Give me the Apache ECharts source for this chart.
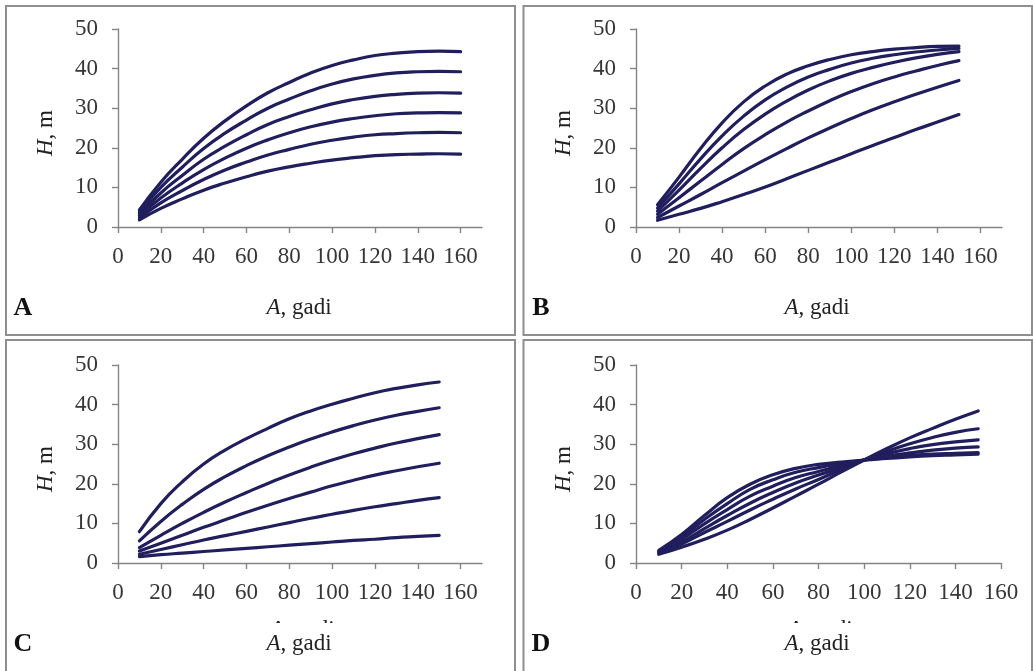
<!DOCTYPE html>
<html>
<head>
<meta charset="utf-8">
<script src="https://cdn.jsdelivr.net/npm/echarts@6/dist/echarts.min.js"></script>
<style>
  html, body { margin: 0; padding: 0; background: #fff; }
  #chart { width: 1033px; height: 671px; }
</style>
</head>
<body>
<div id="chart"></div>
<script>
// Stand age (years) at which heights are given
const agesA = [10, 20, 30, 40, 50, 60, 70, 80, 90, 100, 110, 120, 130, 140, 150, 160];
const agesBCD = [10, 20, 30, 40, 50, 60, 70, 80, 90, 100, 110, 120, 130, 140, 150];

// Panel A: six height curves (m)
const heightsA = [
  [4.3, 11.3, 17.1, 22.4, 26.8, 30.6, 33.9, 36.5, 38.9, 40.8, 42.2, 43.3, 43.9, 44.3, 44.4, 44.3],
  [3.8, 10.0, 15.1, 19.8, 23.7, 27.0, 30.0, 32.3, 34.4, 36.1, 37.4, 38.3, 38.9, 39.2, 39.3, 39.2],
  [3.3, 8.6, 13.0, 17.1, 20.4, 23.3, 25.9, 27.9, 29.6, 31.1, 32.2, 33.0, 33.5, 33.8, 33.9, 33.8],
  [2.8, 7.3, 11.1, 14.5, 17.4, 19.9, 22.0, 23.8, 25.3, 26.5, 27.4, 28.1, 28.6, 28.8, 28.9, 28.8],
  [2.3, 6.1, 9.2, 12.0, 14.4, 16.4, 18.2, 19.6, 20.9, 21.9, 22.7, 23.3, 23.6, 23.8, 23.9, 23.8],
  [1.8, 4.7, 7.1, 9.3, 11.1, 12.7, 14.1, 15.2, 16.1, 16.9, 17.5, 18.0, 18.3, 18.4, 18.5, 18.4]
];

// Panel B
const heightsB = [
  [5.6, 12.6, 19.8, 26.3, 31.6, 35.6, 38.6, 40.7, 42.3, 43.5, 44.3, 44.9, 45.3, 45.6, 45.7],
  [4.8, 10.9, 17.2, 23.0, 28.0, 32.1, 35.3, 37.9, 39.8, 41.4, 42.6, 43.5, 44.2, 44.7, 45.1],
  [4.0, 9.3, 14.8, 20.0, 24.6, 28.5, 31.8, 34.6, 36.9, 38.8, 40.3, 41.6, 42.7, 43.6, 44.3],
  [3.2, 7.4, 11.6, 15.8, 19.8, 23.3, 26.5, 29.3, 31.9, 34.2, 36.2, 37.9, 39.4, 40.8, 42.0],
  [2.4, 5.3, 8.2, 11.2, 14.1, 17.0, 19.8, 22.5, 25.0, 27.4, 29.6, 31.6, 33.5, 35.3, 37.0],
  [1.7, 3.2, 4.7, 6.4, 8.2, 10.1, 12.2, 14.3, 16.4, 18.5, 20.6, 22.6, 24.6, 26.5, 28.4]
];

// Panel C
const heightsC = [
  [7.9, 15.0, 20.5, 25.0, 28.5, 31.4, 34.0, 36.4, 38.4, 40.1, 41.6, 43.0, 44.1, 45.0, 45.7],
  [5.6, 10.5, 14.8, 18.6, 21.8, 24.6, 27.1, 29.3, 31.3, 33.1, 34.7, 36.1, 37.3, 38.3, 39.2],
  [3.9, 7.0, 10.0, 12.8, 15.4, 17.8, 20.1, 22.2, 24.2, 26.0, 27.6, 29.0, 30.3, 31.4, 32.4],
  [3.0, 5.0, 7.0, 9.0, 10.9, 12.8, 14.6, 16.3, 17.9, 19.5, 20.9, 22.2, 23.3, 24.3, 25.2],
  [2.2, 3.4, 4.6, 5.8, 6.9, 8.0, 9.1, 10.2, 11.3, 12.3, 13.3, 14.2, 15.0, 15.8, 16.5],
  [1.6, 2.1, 2.5, 2.9, 3.3, 3.7, 4.1, 4.5, 4.9, 5.3, 5.7, 6.0, 6.4, 6.7, 7.0]
];

// Panel D
const heightsD = [
  [3.2, 7.2, 12.0, 16.5, 19.9, 22.3, 23.9, 24.9, 25.5, 26.0, 26.4, 26.8, 27.1, 27.3, 27.5],
  [3.0, 6.6, 11.0, 15.0, 18.6, 21.0, 22.9, 24.1, 25.1, 26.0, 26.7, 27.2, 27.5, 27.7, 27.9],
  [2.8, 6.0, 9.9, 13.5, 16.9, 19.4, 21.6, 23.1, 24.6, 26.0, 27.0, 27.8, 28.5, 29.0, 29.3],
  [2.6, 5.3, 8.7, 12.0, 15.1, 17.8, 20.2, 22.2, 24.1, 26.0, 27.6, 28.9, 29.9, 30.6, 31.1],
  [2.4, 4.8, 7.7, 10.5, 13.4, 16.1, 18.7, 21.1, 23.6, 26.0, 28.2, 30.1, 31.7, 33.0, 33.9],
  [2.2, 4.0, 6.0, 8.3, 11.0, 13.9, 16.9, 19.9, 23.0, 26.0, 28.9, 31.6, 34.0, 36.3, 38.4]
];

// Axis ticks
const xTicks = [0, 20, 40, 60, 80, 100, 120, 140, 160];
const yTicks = [0, 10, 20, 30, 40, 50];
const panelLetters = ['A', 'B', 'C', 'D'];
const xTitle = '{i|A}, gadi';
const yTitle = '{i|H}, m';

const SERIF = "'Liberation Serif', 'Times New Roman', serif";
const LINE = '#211e5e';
const AXIS = '#858585';
const LABEL = '#363636';
const FS = 23;

const panels = [
  { ages: agesA, data: heightsA, left: 118, top: 29, width: 364, xMax: 170, ox: 0, oy: 0 },
  { ages: agesBCD, data: heightsB, left: 636, top: 29, width: 366, xMax: 170, ox: 518, oy: 0 },
  { ages: agesBCD, data: heightsC, left: 118, top: 365, width: 364, xMax: 170, ox: 0, oy: 336 },
  { ages: agesBCD, data: heightsD, left: 636, top: 365, width: 365, xMax: 160, ox: 518, oy: 336 }
];

const grids = [], xAxes = [], yAxes = [], series = [];
panels.forEach((p, i) => {
  grids.push({ left: p.left, top: p.top, width: p.width, height: 198, outerBoundsMode: 'none' });
  xAxes.push({
    type: 'value', gridIndex: i, min: 0, max: p.xMax, interval: 20,
    axisLine: { onZero: false, lineStyle: { color: AXIS, width: 1.4 } },
    axisTick: { length: 6, lineStyle: { color: AXIS, width: 1.4 }, customValues: xTicks },
    axisLabel: { customValues: xTicks, margin: 18, fontFamily: SERIF, fontSize: FS, color: LABEL },
    splitLine: { show: false }
  });
  yAxes.push({
    type: 'value', gridIndex: i, min: 0, max: 50, interval: 10,
    axisLine: { show: true, lineStyle: { color: AXIS, width: 1.4 } },
    axisTick: { show: true, length: 6, lineStyle: { color: AXIS, width: 1.4 } },
    axisLabel: { margin: 20, fontFamily: SERIF, fontSize: FS, color: LABEL },
    splitLine: { show: false }
  });
  p.data.forEach(vals => {
    series.push({
      type: 'line', xAxisIndex: i, yAxisIndex: i,
      data: p.ages.map((a, j) => [a, vals[j]]),
      smooth: 0.5,
      showSymbol: false, symbol: 'none',
      lineStyle: { color: LINE, width: 3.2, cap: 'round', join: 'round' },
      silent: true, animation: false
    });
  });
});

// Panel frames, axis titles and panel letters
const frames = [
  { x: 6, y: 6, w: 509, h: 329 },
  { x: 523.5, y: 6, w: 508.5, h: 329 },
  { x: 6, y: 340, w: 509, h: 360 },
  { x: 523.5, y: 340, w: 508.5, h: 360 }
];
const graphic = [];
frames.forEach(f => graphic.push({
  type: 'rect', z: 1, silent: true,
  shape: { x: f.x, y: f.y, width: f.w, height: f.h },
  style: { fill: 'none', stroke: '#8e8e8e', lineWidth: 2 }
}));
const titleStyle = (txt) => ({
  text: txt, fontFamily: SERIF, fontSize: FS, fill: '#222',
  align: 'center', verticalAlign: 'middle',
  rich: { i: { fontStyle: 'italic', fontFamily: SERIF, fontSize: FS, fill: '#222' } }
});
panels.forEach((p, i) => {
  // clipped duplicate of the x title peeking above the real one in the lower panels
  if (i >= 2) {
    graphic.push({ type: 'text', z: 5, x: p.ox + 302, y: p.oy + 294, style: titleStyle(xTitle), silent: true });
    graphic.push({ type: 'rect', z: 6, silent: true,
      shape: { x: p.ox + 250, y: p.oy + 287, width: 110, height: 20 }, style: { fill: '#fff' } });
  }
  graphic.push({ type: 'text', z: 10, x: p.ox + 299, y: p.oy + 308, style: titleStyle(xTitle), silent: true });
  graphic.push({ type: 'text', z: 10, x: p.ox + 46, y: p.oy + 133, rotation: Math.PI / 2,
    style: titleStyle(yTitle), silent: true });
  graphic.push({ type: 'text', z: 10, x: p.ox + 23, y: p.oy + 308, silent: true,
    style: { text: panelLetters[i], fontFamily: SERIF, fontSize: 26, fontWeight: 'bold', fill: '#111',
      align: 'center', verticalAlign: 'middle' } });
});

const chart = echarts.init(document.getElementById('chart'), null, { renderer: 'canvas' });
chart.setOption({
  animation: false,
  backgroundColor: '#fff',
  grid: grids, xAxis: xAxes, yAxis: yAxes, series: series,
  graphic: graphic
});
</script>
</body>
</html>
